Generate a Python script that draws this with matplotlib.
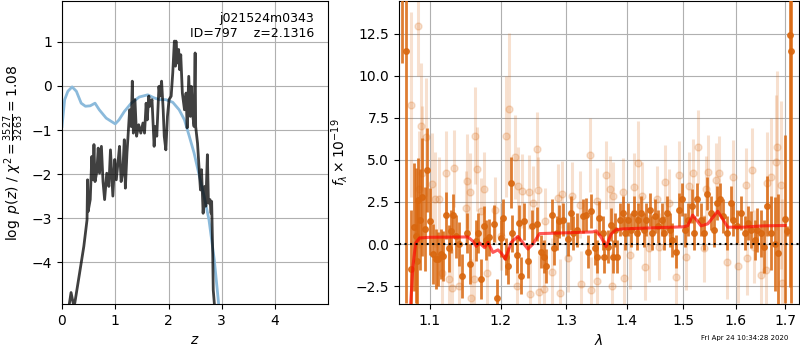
import numpy as np
import matplotlib
matplotlib.use('Agg')
import matplotlib.pyplot as plt
from matplotlib.ticker import FixedLocator, NullLocator, FormatStrFormatter

# --- p(z) panel data ---
z_chi = [0.14, 0.17, 0.21, 0.24, 0.33, 0.41, 0.47, 0.48, 0.49, 0.53, 0.56, 0.58,
         0.60, 0.62, 0.655, 0.68, 0.705, 0.74, 0.77, 0.80, 0.84, 0.88, 0.91, 0.955,
         0.99, 1.02, 1.05, 1.08, 1.11, 1.14, 1.17, 1.19, 1.22, 1.24, 1.27, 1.30,
         1.32, 1.34, 1.37, 1.40, 1.44, 1.48, 1.52, 1.55, 1.58, 1.60, 1.63, 1.65,
         1.69, 1.73, 1.75, 1.78, 1.82, 1.84, 1.87, 1.90, 1.92, 1.95, 1.98, 2.01,
         2.05, 2.08, 2.11, 2.13, 2.14, 2.16, 2.19, 2.21, 2.23, 2.26, 2.30, 2.33,
         2.35, 2.38, 2.41, 2.43, 2.45, 2.48, 2.50, 2.51, 2.545, 2.58, 2.60, 2.62,
         2.65, 2.68, 2.70, 2.73, 2.75, 2.78, 2.80, 2.81, 2.83, 2.84, 2.86]
logp_chi = [-4.93, -4.69, -4.93, -4.93, -4.25, -3.64, -3.04, -2.13, -2.85, -2.58, -1.60, -2.13,
            -1.33, -2.17, -1.94, -1.41, -1.98, -1.37, -2.17, -2.58, -1.98, -2.28, -1.45, -2.50,
            -1.67, -2.13, -1.75, -1.37, -2.17, -1.98, -1.22, -2.32, -1.52, -1.14, -0.54, -0.92,
            0.11, -1.07, -0.31, -1.14, -0.88, -1.07, -0.84, -1.07, -0.39, -0.77, -0.23, -0.46,
            -0.31, -1.37, -0.92, -1.14, -0.01, -0.23, 0.11, -0.54, -1.14, -1.45, -0.69, -0.31,
            -0.23, 0.30, 1.02, 0.45, 1.02, 0.52, 0.83, 0.37, 0.71, -0.16, -0.54, -0.16,
            -0.95, 0.22, -0.69, -0.01, -0.61, -0.92, 0.75, -0.92, -1.30, -1.98, -2.36, -1.90,
            -2.89, -2.28, -2.73, -1.56, -2.66, -2.58, -2.89, -2.62, -3.80, -4.63, -4.93]

z_pz = [0.0, 0.05, 0.11, 0.19, 0.27, 0.36, 0.44, 0.53, 0.62, 0.70, 0.83, 0.92,
        1.00, 1.07, 1.17, 1.30, 1.45, 1.61, 1.73, 1.83, 1.95, 2.08, 2.20, 2.30,
        2.39, 2.48, 2.58, 2.67, 2.76, 2.86, 2.94]
logp_pz = [-0.92, -0.31, -0.12, -0.02, -0.12, -0.39, -0.46, -0.45, -0.39, -0.54, -0.73, -0.80,
           -0.86, -0.77, -0.58, -0.39, -0.25, -0.20, -0.27, -0.31, -0.31, -0.37, -0.54, -0.77,
           -1.14, -1.52, -2.05, -2.51, -3.04, -3.95, -4.93]

# --- spectrum panel data ---
wave_dark = [1.0629, 1.0682, 1.0746, 1.0786, 1.0813, 1.0826, 1.0840, 1.0866, 1.0893, 1.0933,
             1.0960, 1.1000, 1.1040, 1.1081, 1.1108, 1.1149, 1.1176, 1.1217, 1.1258, 1.1286,
             1.1313, 1.1354, 1.1396, 1.1438, 1.1509, 1.1551, 1.1636, 1.1665, 1.1707, 1.1750,
             1.1779, 1.1822, 1.1895, 1.1939, 1.1997, 1.2027, 1.2071, 1.2100, 1.2145, 1.2160,
             1.2235, 1.2264, 1.2294, 1.2339, 1.2400, 1.2461, 1.2537, 1.2599, 1.2645, 1.2676,
             1.2769, 1.2801, 1.2848, 1.2879, 1.2942, 1.3021, 1.3069, 1.3101, 1.3166, 1.3263,
             1.3312, 1.3344, 1.3393, 1.3459, 1.3508, 1.3541, 1.3591, 1.3624, 1.3675, 1.3725,
             1.3759, 1.3793, 1.3827, 1.3877, 1.3928, 1.3962, 1.4014, 1.4065, 1.4117, 1.4169,
             1.4203, 1.4255, 1.4308, 1.4343, 1.4413, 1.4448, 1.4502, 1.4555, 1.4609, 1.4662,
             1.4716, 1.4770, 1.4806, 1.4879, 1.4933, 1.4988, 1.5043, 1.5099, 1.5173, 1.5210,
             1.5266, 1.5341, 1.5397, 1.5454, 1.5530, 1.5588, 1.5645, 1.5702, 1.5760, 1.5837,
             1.5915, 1.5954, 1.6032, 1.6111, 1.6190, 1.6249, 1.6309, 1.6389, 1.6429, 1.6510,
             1.6571, 1.6631, 1.6713, 1.6795, 1.6857, 1.7002, 1.7043, 1.7106, 1.7127]
flux_dark = [16.0, 11.5, -1.5, 1.0, 0.5, -1.0, 2.64, 1.45, 2.8, 0.9,
             4.4, 1.35, -0.6, -0.9, -0.9, -0.6, -0.7, 1.7, -0.25, 0.75,
             1.7, 0.45, 0.0, -1.9, 0.65, -1.2, 0.2, 0.65, -2.1, 1.05,
             0.25, 0.4, 1.2, -3.2, 0.35, 1.55, -0.75, -1.3, 3.65, 0.65,
             -0.65, 1.25, -1.9, 1.35, -1.0, 1.05, 1.2, -0.45, -0.75, -1.3,
             1.7, -0.25, 0.65, 1.35, 1.45, 0.3, 1.85, 0.65, 0.85, 1.65,
             1.75, -0.45, 1.95, -0.25, -0.75, 1.55, 0.65, -0.75, -0.15, 1.15,
             -0.75, 0.85, -0.75, 1.45, 1.85, 0.65, 1.45, 0.85, 1.85, 0.65,
             1.45, 1.85, 0.85, 1.45, 2.05, 0.65, 1.65, 1.05, 1.45, 0.65,
             1.85, 0.85, 0.25, -0.45, 2.05, 2.65, 0.85, 1.45, 2.25, 0.65,
             2.65, 1.45, 0.65, 3.0, 1.85, 0.85, 2.45, 2.65, 1.65, 0.65,
             2.45, 1.45, 1.05, 1.85, 0.65, 1.25, 0.85, 0.25, 0.85, 0.65,
             -0.15, 2.25, 0.65, 0.0, -0.55, 1.5, 0.8, 12.45, 11.5]
err_dark = [5.2, 15.0, 3.5, 3.8, 4.0, 3.5, 2.5, 3.0, 3.5, 2.5,
            2.5, 2.0, 1.8, 1.8, 1.6, 1.5, 1.5, 1.4, 1.4, 1.3,
            1.3, 1.3, 1.3, 1.3, 1.2, 1.2, 1.2, 1.2, 1.2, 1.2,
            1.2, 1.1, 1.1, 1.1, 1.1, 1.1, 1.1, 1.1, 1.5, 1.1,
            1.1, 1.1, 1.1, 1.1, 1.0, 1.0, 1.0, 1.0, 1.0, 1.0,
            1.0, 1.0, 1.0, 1.0, 1.0, 1.0, 1.0, 1.0, 1.0, 1.0,
            1.0, 1.0, 1.0, 1.0, 1.0, 1.0, 1.0, 1.0, 1.0, 1.0,
            1.0, 1.0, 1.0, 1.0, 1.0, 1.0, 1.0, 1.0, 1.0, 1.0,
            1.0, 1.0, 1.0, 1.0, 1.0, 1.0, 1.0, 1.0, 1.0, 1.0,
            1.0, 1.0, 1.0, 1.0, 1.0, 1.0, 1.0, 1.0, 1.0, 1.0,
            1.0, 1.0, 1.0, 1.0, 1.0, 1.0, 1.0, 1.0, 1.0, 1.0,
            1.0, 1.0, 1.0, 1.0, 1.0, 1.0, 1.1, 1.2, 1.3, 1.4,
            1.6, 1.8, 2.2, 2.8, 3.5, 5.0, 0.3, 15.0, 15.0]

wave_light = [1.0746, 1.0840, 1.0853, 1.0879, 1.0893, 1.0946, 1.1027, 1.1068, 1.1122, 1.1162,
              1.1217, 1.1258, 1.1299, 1.1327, 1.1396, 1.1495, 1.1509, 1.1551, 1.1565, 1.1608,
              1.1622, 1.1651, 1.1707, 1.1750, 1.1794, 1.1910, 1.1997, 1.2071, 1.2115, 1.2205,
              1.2235, 1.2250, 1.2309, 1.2415, 1.2430, 1.2476, 1.2537, 1.2552, 1.2568, 1.2645,
              1.2661, 1.2769, 1.2864, 1.2895, 1.2927, 1.3021, 1.3085, 1.3214, 1.3230, 1.3377,
              1.3393, 1.3492, 1.3508, 1.3641, 1.3708, 1.3742, 1.3759, 1.3928, 1.3945, 1.4048,
              1.4117, 1.4203, 1.4272, 1.4325, 1.4395, 1.4520, 1.4573, 1.4680, 1.4752, 1.4879,
              1.4933, 1.5062, 1.5117, 1.5191, 1.5284, 1.5397, 1.5435, 1.5473, 1.5626, 1.5683,
              1.5837, 1.5954, 1.6051, 1.6209, 1.6229, 1.6329, 1.6369, 1.6510, 1.6611, 1.6631,
              1.6713, 1.6815, 1.6836, 1.6919, 1.6940]
flux_light = [8.3, 13.0, 3.25, 7.0, 4.2, 6.35, 3.6, 2.65, 2.7, -1.7,
              4.2, -2.1, -2.6, 4.5, -2.5, 2.15, 3.75, 3.1, -3.2, -2.1,
              6.45, 4.45, 1.95, 3.3, -1.7, 2.0, 0.45, 6.4, 8.05, 5.2,
              -2.5, 3.45, 3.15, 3.1, -3.0, 2.45, 5.65, 3.2, -2.85, -2.7,
              1.35, -1.65, 2.75, -2.9, 2.95, -0.85, 2.85, 2.35, -2.4, 5.3,
              -2.75, -2.2, 2.55, 4.1, 3.25, -2.5, 2.85, 3.1, -2.0, -0.65,
              3.4, 4.8, 2.85, -1.35, -0.25, 2.65, -0.15, 3.7, 2.45, -1.95,
              4.1, -0.75, 3.45, 4.25, 5.8, -0.25, 3.25, 4.3, 3.8, 4.2,
              -1.1, 4.0, -1.3, 3.5, -0.85, 4.4, -0.15, -1.85, -1.55, 3.65,
              4.0, 4.85, 5.8, 3.5, -2.3]
err_light = [5.5, 3.0, 3.5, 3.8, 4.0, 3.5, 3.0, 2.8, 2.5, 2.5,
             2.5, 2.2, 2.3, 2.3, 2.2, 2.2, 2.8, 2.3, 2.3, 2.2,
             2.9, 2.5, 2.0, 2.2, 2.0, 2.0, 2.0, 3.6, 4.5, 2.5,
             2.2, 2.3, 2.2, 2.2, 2.0, 2.2, 2.2, 2.0, 2.2, 2.0,
             2.0, 2.0, 2.0, 2.0, 2.0, 2.0, 2.0, 2.0, 2.0, 2.2,
             2.0, 2.0, 2.0, 2.0, 2.0, 2.0, 2.0, 2.0, 2.0, 2.0,
             2.0, 2.5, 2.0, 2.0, 2.0, 2.0, 2.0, 2.2, 2.0, 2.0,
             2.0, 2.0, 2.0, 2.0, 2.2, 2.0, 2.0, 2.2, 2.2, 2.2,
             2.2, 2.2, 2.2, 2.2, 2.2, 2.5, 2.2, 2.5, 3.0, 3.0,
             3.5, 4.0, 4.5, 5.0, 5.0]

wave_model = [1.0746, 1.0776, 1.0812, 1.0866, 1.1000, 1.1527, 1.1598, 1.1645, 1.1693, 1.1765,
              1.1813, 1.1885, 1.1958, 1.2008, 1.2067, 1.2155, 1.2254, 1.2405, 1.2481, 1.2583,
              1.2947, 1.3432, 1.3486, 1.3568, 1.3651, 1.3736, 1.3820, 1.3932, 1.4337, 1.4992,
              1.5084, 1.5177, 1.5334, 1.5461, 1.5650, 1.5843, 1.6136, 1.6536, 1.6996]
flux_model = [-3.6, -1.33, 0.06, 0.36, 0.40, 0.42, 0.16, -0.14, 0.06, -0.22,
              0.1, -0.5, -0.35, -0.55, -0.9, 0.1, 0.45, -0.3, 0.0, 0.62,
              0.66, 0.72, 0.78, 0.4, -0.15, 0.6, 0.85, 0.9, 0.95, 1.02,
              1.08, 1.72, 1.08, 1.2, 1.95, 1.0, 1.0, 1.08, 1.1]

obj_name = 'j021524m0343'
obj_id = 797
z_best = 2.1316
timestamp = 'Fri Apr 24 10:34:28 2020'

orange = '#d9670f'

fig = plt.figure(figsize=(8, 3.5), dpi=100)
ax1 = fig.add_axes([62/800, 46/350, 266/800, 303/350])
ax2 = fig.add_axes([399/800, 46/350, 400/800, 303/350])

# left: p(z) and chi2
ax1.plot(z_pz, logp_pz, color='#8bbadb', lw=2)
ax1.plot(z_chi, logp_chi, color='k', alpha=0.75, lw=2)
ax1.set_xlim(0, 4.995)
ax1.set_ylim(-4.95, 1.93)
ax1.set_xticks([0, 1, 2, 3, 4])
ax1.set_yticks([-4, -3, -2, -1, 0, 1])
ax1.grid()
ax1.set_xlabel('$z$')
ax1.set_ylabel(r'$\log\ p(z)$ / $\chi^2=\frac{3527}{3263}=1.08$')
ax1.text(0.947, 0.965, '{0}\nID={1}    z={2:.4f}'.format(obj_name, obj_id, z_best),
         transform=ax1.transAxes, ha='right', va='top', fontsize=9,
         multialignment='right')

# right: spectrum
ax2.errorbar(wave_light, flux_light, err_light, fmt='o', color=orange, alpha=0.2,
             markersize=5, elinewidth=2.2, capsize=0, zorder=2)
ax2.errorbar(wave_dark, flux_dark, err_dark, fmt='o', color=orange, alpha=0.85,
             markersize=4, elinewidth=2, capsize=0, zorder=3)
ax2.plot(wave_model, flux_model, color='r', alpha=0.65, lw=2.2, zorder=4)
ax2.axhline(0, color='k', linestyle=':', lw=1.5, zorder=5)
ax2.set_xscale('log')
ax2.set_xlim(1.0594, 1.7287)
ax2.set_ylim(-3.57, 14.46)
ax2.xaxis.set_major_locator(FixedLocator([1.1, 1.2, 1.3, 1.4, 1.5, 1.6, 1.7]))
ax2.xaxis.set_major_formatter(FormatStrFormatter('%.1f'))
ax2.xaxis.set_minor_locator(NullLocator())
ax2.set_yticks([-2.5, 0.0, 2.5, 5.0, 7.5, 10.0, 12.5])
ax2.grid()
ax2.set_xlabel(r'$\lambda$')
ax2.set_ylabel(r'$f_\lambda \times 10^{-19}$')

fig.text(0.985, 0.025, timestamp, ha='right', va='bottom', fontsize=5)

fig.savefig('out.png', dpi=100)
